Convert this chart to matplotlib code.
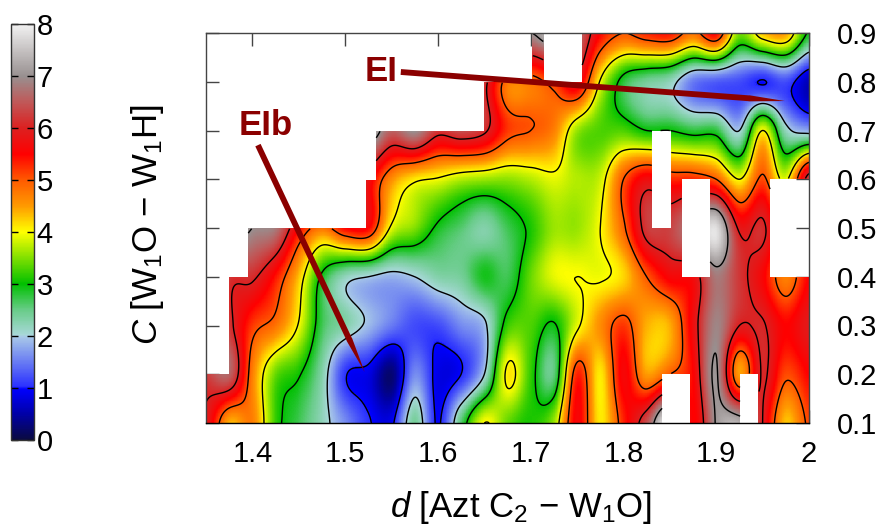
import matplotlib
matplotlib.use("Agg")
import matplotlib.pyplot as plt
import numpy as np
from matplotlib.colors import LinearSegmentedColormap

plt.rcParams['font.family'] = ['Liberation Sans', 'DejaVu Sans']
plt.rcParams['mathtext.fontset'] = 'custom'
plt.rcParams['mathtext.rm'] = 'Liberation Sans'
plt.rcParams['mathtext.it'] = 'Liberation Sans:italic'

n = np.nan
d_grid = [1.35 + 0.025 * i for i in range(27)]
c_grid = [0.1, 0.2, 0.3, 0.4, 0.5, 0.6, 0.7, 0.8, 0.9]

# one list per C row, values
row_01 = [5.9, 4.4, 4.7, 3.2, 2.7, 2.2, 1.6, 1.05, 0.9, 2.4, 0.95, 2.6, 4.0, 3.4, 3.1, 3.6, 5.6, 4.1, 5.3, 6.4, 8.0, 5.5, 7.05, 7.3, 6.0, 4.3, 5.1]
row_02 = [6.3, 6.6, 4.7, 3.4, 3.05, 2.3, 1.05, 0.85, 0.25, 1.6, 0.85, 1.0, 2.0, 4.1, 3.2, 2.55, 5.3, 4.1, 5.6, 4.5, 5.0, 5.5, 7.05, 4.5, 6.05, 5.1, 5.5]
row_03 = [n, 6.2, 5.2, 4.8, 3.95, 2.7, 2.3, 1.9, 1.5, 1.2, 1.2, 1.6, 1.9, 3.2, 3.3, 2.95, 3.9, 4.6, 5.2, 4.4, 4.4, 5.7, 6.9, 6.0, 6.05, 5.5, 5.9]
row_04 = [n, 6.2, 6.1, 5.4, 4.3, 2.9, 2.2, 2.0, 1.85, 2.0, 2.3, 2.4, 2.9, 2.7, 3.4, 3.9, 4.0, 3.95, 4.2, 5.0, 5.6, 5.7, 6.8, 6.2, 5.6, 4.7, 5.5]
row_05 = [n, n, 7.0, 6.8, 5.5, 4.8, 5.5, 5.5, 3.9, 3.5, 2.9, 2.6, 2.3, 2.7, 3.1, 3.6, 3.6, 4.0, 4.9, 6.2, 6.3, 7.0, 7.8, 5.9, 6.1, 5.0, 5.5]
row_06 = [n, n, n, n, n, n, n, 5.8, 4.6, 4.1, 3.95, 3.7, 3.6, 3.55, 3.7, 3.9, 3.7, 3.8, 5.0, 5.7, 5.3, 5.3, 5.0, 4.0, 5.1, 3.9, 6.3]
row_07 = [n, n, n, n, n, n, n, n, 6.6, 7.0, 6.2, 6.4, 6.1, 5.2, 5.0, 4.7, 3.6, 3.3, 3.3, 3.0, 3.0, 2.8, 2.8, 2.0, 4.0, 2.2, 1.8]
row_08 = [n, n, n, n, n, n, n, n, n, n, n, n, 6.2, 4.8, 4.8, 5.2, 5.8, 3.95, 2.8, 2.4, 2.2, 1.5, 1.3, 1.2, 0.98, 1.2, 0.6]
row_09 = [n, n, n, n, n, n, n, n, n, n, n, n, n, n, 7.0, 7.5, 6.8, 5.5, 5.0, 5.3, 5.4, 4.8, 5.5, 3.5, 4.3, 4.5, 2.9]

# cells with no data: d from, d to, C from, C to
blank_d_lo = [1.35, 1.35, 1.35, 1.35, 1.35, 1.35, 1.714, 1.831, 1.863, 1.958, 1.842, 1.926]
blank_d_hi = [1.375, 1.395, 1.522, 1.533, 1.65, 1.702, 1.755, 1.851, 1.893, 2.0, 1.872, 1.946]
blank_c_lo = [0.2, 0.4, 0.5, 0.6, 0.7, 0.8, 0.8, 0.5, 0.4, 0.4, 0.1, 0.1]
blank_c_hi = [0.4, 0.5, 0.6, 0.7, 0.8, 0.9, 0.9, 0.7, 0.6, 0.6, 0.2, 0.2]

levels = [1, 2, 3, 4, 5, 6, 7]
cbar_ticks = [0, 1, 2, 3, 4, 5, 6, 7, 8]
x_ticks = [1.4, 1.5, 1.6, 1.7, 1.8, 1.9, 2.0]
x_labels = ['1.4', '1.5', '1.6', '1.7', '1.8', '1.9', '2']
y_ticks = [0.1, 0.2, 0.3, 0.4, 0.5, 0.6, 0.7, 0.8, 0.9]

cmap = LinearSegmentedColormap.from_list('gap', [
    (0 / 8, '#0a0a40'), (0.5 / 8, '#0000a8'), (0.98 / 8, '#0000ff'), (1.02 / 8, '#2a30ff'),
    (1.98 / 8, '#a8c8e8'), (2.02 / 8, '#a8d8d8'), (2.5 / 8, '#68cc88'), (3 / 8, '#00c000'),
    (3.5 / 8, '#80e000'), (4 / 8, '#ffff00'), (4.5 / 8, '#ff9a00'), (5 / 8, '#ff5a00'),
    (5.5 / 8, '#ff0000'), (6 / 8, '#dc2020'), (6.5 / 8, '#c05858'), (7 / 8, '#989090'),
    (8 / 8, '#f2f2f2')], N=512)


def catmull(values, pos):
    # cubic interpolation along the first axis
    i = np.clip(np.floor(pos).astype(int), 0, values.shape[0] - 2)
    t = pos - i
    t = t.reshape((-1,) + (1,) * (values.ndim - 1))
    p0 = values[np.clip(i - 1, 0, None)]
    p1 = values[i]
    p2 = values[i + 1]
    p3 = values[np.clip(i + 2, None, values.shape[0] - 1)]
    return 0.5 * (2 * p1 + (p2 - p0) * t + (2 * p0 - 5 * p1 + 4 * p2 - p3) * t ** 2 + (3 * p1 - p0 - 3 * p2 + p3) * t ** 3)


grid = np.array([row_01, row_02, row_03, row_04, row_05, row_06, row_07, row_08, row_09])
grid = np.where(np.isnan(grid), 7.5, grid)

fine_c = np.linspace(0, 8, 489)
fine_d = np.linspace(0, 26, 929)
zi = catmull(grid, fine_c)
zi = catmull(zi.T, fine_d).T

dd = np.array(d_grid[0]) + fine_d * 0.025
cc = 0.1 + fine_c * 0.1
DD, CC = np.meshgrid(dd, cc)
mask = np.zeros(zi.shape, dtype=bool)
for a, b, e, f in zip(blank_d_lo, blank_d_hi, blank_c_lo, blank_c_hi):
    mask |= (DD >= a) & (DD <= b) & (CC >= e) & (CC <= f)
zm = np.ma.masked_where(mask, zi)

fig = plt.figure(figsize=(8.92, 5.31), dpi=100)
W, H = 892.0, 531.0
ax = fig.add_axes([206 / W, 1 - 423 / H, 603 / W, 390 / H])
im = ax.imshow(zm, extent=[dd[0], dd[-1], cc[0], cc[-1]], origin='lower', aspect='auto',
               cmap=cmap, vmin=0, vmax=8, interpolation='nearest', zorder=1)
ax.contour(DD, CC, zm, levels=levels, colors='black', linewidths=1.0, zorder=2)
ax.set_xlim(1.35, 2.0)
ax.set_ylim(0.1, 0.9)
ax.set_axisbelow(True)

ax.set_xticks(x_ticks)
ax.set_xticklabels(x_labels)
ax.set_yticks(y_ticks)
ax.tick_params(axis='both', direction='in', length=9.5, width=1.0, color='#444444', labelsize=21)
ax.tick_params(axis='x', top=True, bottom=True, pad=12)
ax.tick_params(axis='y', left=True, right=True, labelleft=False, labelright=True, pad=20)
for s in ax.spines.values():
    s.set_color('#444444')
    s.set_linewidth(1.0)
ax.spines['bottom'].set_color('black')

fig.text(148 / W, 1 - 225 / H, r'$C$ [W$_1$O $-$ W$_1$H]', rotation=90, fontsize=25, ha='center', va='center')
fig.text(521 / W, 1 - 508 / H, r'$d$ [Azt C$_2$ $-$ W$_1$O]', fontsize=25, ha='center', va='center')

# energy paths
ax.annotate('', xy=(1.974, 0.7605), xytext=(1.56, 0.82), zorder=5,
            arrowprops=dict(width=4.2, headwidth=4.4, headlength=26, color='#8b0000', shrink=0, linewidth=0))
ax.annotate('', xy=(1.521, 0.2046), xytext=(1.406, 0.670), zorder=5,
            arrowprops=dict(width=4.2, headwidth=4.4, headlength=26, color='#8b0000', shrink=0, linewidth=0))
ax.text(1.539, 0.822, 'EI', color='#8b0000', fontsize=25, fontweight='bold', ha='center', va='center', zorder=6)
ax.text(1.414, 0.71, 'EIb', color='#8b0000', fontsize=25, fontweight='bold', ha='center', va='center', zorder=6)

cax = fig.add_axes([11 / W, 1 - 440 / H, 23 / W, 416 / H])
cb = fig.colorbar(im, cax=cax)
cb.set_ticks(cbar_ticks)
cb.ax.tick_params(direction='in', length=5, width=1.0, labelsize=21, pad=2, left=True, right=True, color='black')
cb.outline.set_linewidth(1.0)
cb.outline.set_edgecolor('#333333')

fig.savefig('out.png', dpi=100)
